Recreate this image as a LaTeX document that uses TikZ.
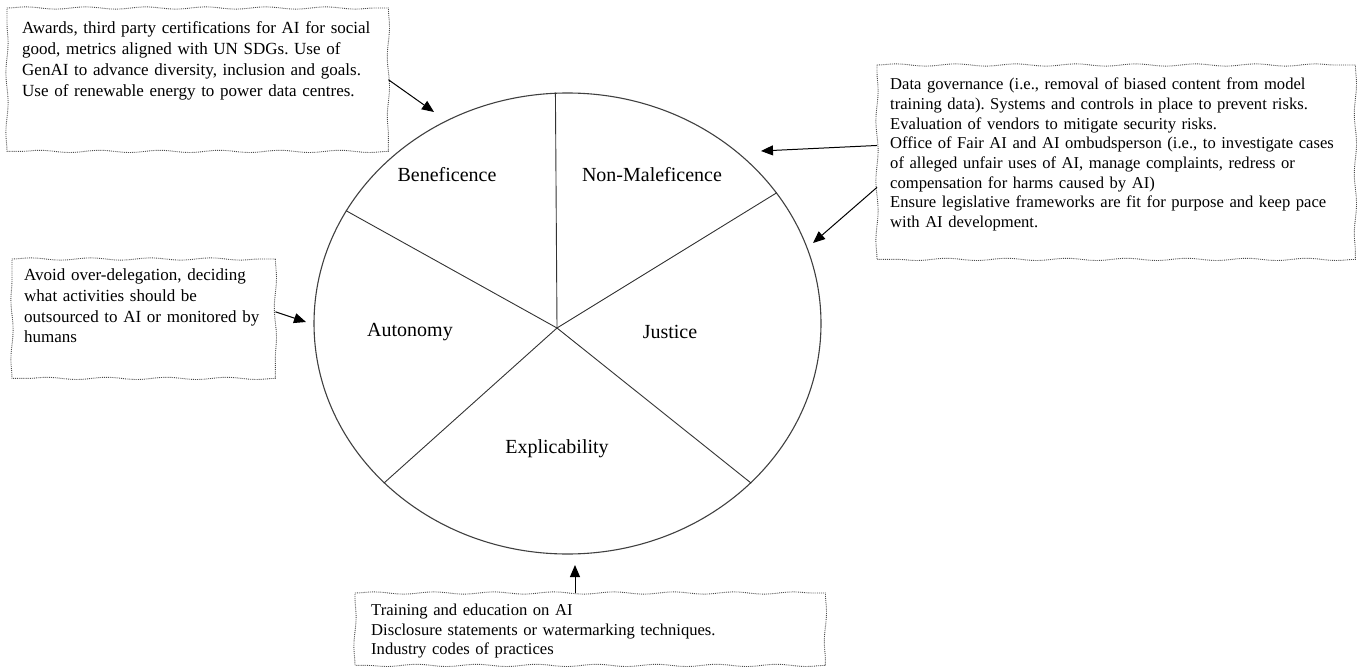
\documentclass[tikz,border=0pt]{standalone}
\usepackage{fontspec}
\setmainfont{Liberation Serif}
\usetikzlibrary{positioning,shapes.geometric,arrows.meta,decorations.pathmorphing}
\frenchspacing

% wavy dotted frame round a named node, one side at a time
\newcommand{\wavyedge}[1]{%
    \draw[note_edge] (#1.north west) decorate {-- (#1.north east)} decorate {-- (#1.south east)}
                     decorate {-- (#1.south west)} decorate {-- (#1.north west)};}

\begin{document}
\begin{tikzpicture}[x=1pt, y=-1pt,
        note_box/.style={align=left, anchor=north west, text height=12pt, font=\fontsize{17}{21}\selectfont},
        note_edge/.style={draw=black!70, line width=0.9pt, densely dotted, decoration={snake, amplitude=1.1pt, segment length=60pt}},
        pillar_label/.style={font=\fontsize{20}{24}\selectfont, inner sep=0pt},
        spoke_line/.style={draw=black!80, line width=0.9pt},
        pointer/.style={black, line width=1pt, -{Triangle[length=12pt, width=10pt]}}
        ]
            \useasboundingbox (0,0) rectangle (1362,668);

            % wheel
            \node[ellipse, draw=black!75, line width=1.1pt, minimum width=507pt, minimum height=461pt, inner sep=0pt] (wheel) at (567.5,323.5) {};
            \coordinate (hub) at (557,328);

            % spokes
            \draw[spoke_line] (hub) -- (wheel.93);
            \draw[spoke_line] (hub) -- (wheel.153.7);
            \draw[spoke_line] (hub) -- (wheel.32.2);
            \draw[spoke_line] (hub) -- (wheel.221);
            \draw[spoke_line] (hub) -- (wheel.319.2);

            % principles
            \node[pillar_label] (lbl_benef)  at (447,175) {Beneficence};
            \node[pillar_label] (lbl_nonmal) at (652,175) {Non-Maleficence};
            \node[pillar_label] (lbl_auto)   at (410,332) {Autonomy};
            \node[pillar_label] (lbl_just)   at (670,332) {Justice};
            \node[pillar_label] (lbl_expl)   at (557,449) {Explicability};

            % notes
            \node[note_box, inner xsep=15pt, inner ysep=13pt, text width=351pt, text depth=105pt] (box_benef) at (7,8)
                {Awards, third party certifications for AI for social\\
                 good, metrics aligned with UN SDGs. Use of\\
                 GenAI to advance diversity, inclusion and goals.\\
                 Use of renewable energy to power data centres.};
            \node[note_box, inner xsep=13pt, inner ysep=12.5pt, text width=452pt, text depth=157pt,
                  font=\fontsize{16.6}{19.7}\selectfont] (box_nonmal) at (877,65)
                {Data governance (i.e., removal of biased content from model\\
                 training data). Systems and controls in place to prevent risks.\\
                 Evaluation of vendors to mitigate security risks.\\
                 Office of Fair AI and AI ombudsperson (i.e., to investigate cases\\
                 of alleged unfair uses of AI, manage complaints, redress or\\
                 compensation for harms caused by AI)\\
                 Ensure legislative frameworks are fit for purpose and keep pace\\
                 with AI development.};
            \node[note_box, inner xsep=12pt, inner ysep=9.5pt, text width=239pt, text depth=88pt,
                  font=\fontsize{17}{20.7}\selectfont] (box_auto) at (12,259)
                {Avoid over-delegation, deciding\\
                 what activities should be\\
                 outsourced to AI or monitored by\\
                 humans};
            \node[note_box, inner xsep=16pt, inner ysep=10.5pt, text width=438pt, text depth=39pt,
                  font=\fontsize{16.6}{19.5}\selectfont] (box_expl) at (355,593)
                {Training and education on AI\\
                 Disclosure statements or watermarking techniques.\\
                 Industry codes of practices};

            % wavy borders
            \wavyedge{box_benef}
            \wavyedge{box_nonmal}
            \wavyedge{box_auto}
            \wavyedge{box_expl}

            % arrow tips
            \coordinate (tip_benef)  at (434,112);
            \coordinate (tip_nonmal) at (761,151);
            \coordinate (tip_just)   at (813,243);
            \coordinate (tip_auto)   at (306,322);
            \coordinate (tip_expl)   at (575,565);

            % arrows
            \draw[pointer] (box_benef.east) -- (tip_benef);
            \draw[pointer] (box_nonmal.176.5) -- (tip_nonmal);
            \draw[pointer] (box_nonmal.186) -- (tip_just);
            \draw[pointer] (box_auto.3) -- (tip_auto);
            \draw[pointer] (tip_expl |- box_expl.north) -- (tip_expl);
        \end{tikzpicture}
\end{document}
